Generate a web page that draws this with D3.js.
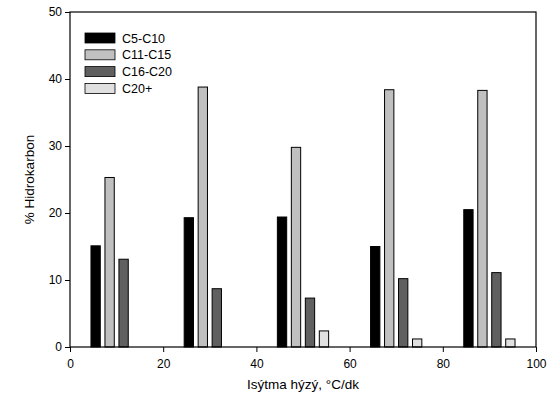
<!DOCTYPE html>
<html>
<head>
<meta charset="utf-8">
<script src="https://cdn.jsdelivr.net/npm/d3@7"></script>
<style>
  body { margin: 0; background: #fff; }
  text { font-family: "Liberation Sans", Arial, sans-serif; }
</style>
</head>
<body>
<div id="chart"></div>
<script>
// heating rates (°C/dk) at which samples were taken
const rates = [10, 30, 50, 70, 90];
const seriesNames = ["C5-C10", "C11-C15", "C16-C20", "C20+"];
const c5c10 = [15.1, 19.3, 19.4, 15.0, 20.5];
const c11c15 = [25.3, 38.8, 29.8, 38.4, 38.3];
const c16c20 = [13.1, 8.7, 7.3, 10.2, 11.1];
const c20plus = [0, 0, 2.4, 1.2, 1.2];
const xTicks = [0, 20, 40, 60, 80, 100];
const yTicks = [0, 10, 20, 30, 40, 50];

const series = [c5c10, c11c15, c16c20, c20plus];
const colors = ["#000000", "#c0c0c0", "#606060", "#e0e0e0"];
// bar offsets from the group centre, in x units
const offsets = [-4.5, -1.5, 1.5, 4.5];
const barWidth = 2;

const width = 551, height = 405;
const margin = {top: 12, right: 15, bottom: 58, left: 70};

const svg = d3.select("#chart").append("svg")
  .attr("width", width)
  .attr("height", height);

const x = d3.scaleLinear().domain([0, 100]).range([margin.left, width - margin.right]);
const y = d3.scaleLinear().domain([0, 50]).range([height - margin.bottom, margin.top]);

// bars
series.forEach(function (vals, s) {
  svg.append("g")
    .selectAll("rect")
    .data(vals)
    .join("rect")
      .attr("x", (d, i) => x(rates[i] + offsets[s] - barWidth / 2))
      .attr("width", x(barWidth) - x(0))
      .attr("y", d => y(d))
      .attr("height", d => y(0) - y(d))
      .attr("fill", colors[s])
      .attr("stroke", d => d > 0 ? "#000" : "none")
      .attr("stroke-width", 1);
});

// frame
svg.append("rect")
  .attr("x", x(0))
  .attr("y", y(50))
  .attr("width", x(100) - x(0))
  .attr("height", y(0) - y(50))
  .attr("fill", "none")
  .attr("stroke", "#000")
  .attr("stroke-width", 1.2);

// axes
svg.append("g")
  .attr("transform", `translate(0,${y(0)})`)
  .call(d3.axisBottom(x).tickValues(xTicks).tickSize(5).tickSizeOuter(0))
  .call(g => g.select(".domain").remove())
  .call(g => g.selectAll("text").attr("font-size", 12).attr("fill", "#000").attr("dy", "1.1em"));

svg.append("g")
  .attr("transform", `translate(${x(0)},0)`)
  .call(d3.axisLeft(y).tickValues(yTicks).tickSize(5).tickSizeOuter(0))
  .call(g => g.select(".domain").remove())
  .call(g => g.selectAll("text").attr("font-size", 12).attr("fill", "#000"));

// axis titles
svg.append("text")
  .attr("x", (x(0) + x(100)) / 2)
  .attr("y", 389)
  .attr("text-anchor", "middle")
  .attr("font-size", 13.5)
  .text("Isýtma hýzý, °C/dk");

svg.append("text")
  .attr("transform", `translate(34,${(y(0) + y(50)) / 2}) rotate(-90)`)
  .attr("text-anchor", "middle")
  .attr("font-size", 13.5)
  .text("% Hidrokarbon");

// legend
const legend = svg.append("g").attr("transform", "translate(85,33)");
seriesNames.forEach(function (name, i) {
  const row = legend.append("g").attr("transform", `translate(0,${i * 16.8})`);
  row.append("rect")
    .attr("width", 30)
    .attr("height", 10)
    .attr("fill", colors[i])
    .attr("stroke", "#000")
    .attr("stroke-width", 0.8);
  row.append("text")
    .attr("x", 37)
    .attr("y", 9.5)
    .attr("font-size", 12.5)
    .text(name);
});
</script>
</body>
</html>
